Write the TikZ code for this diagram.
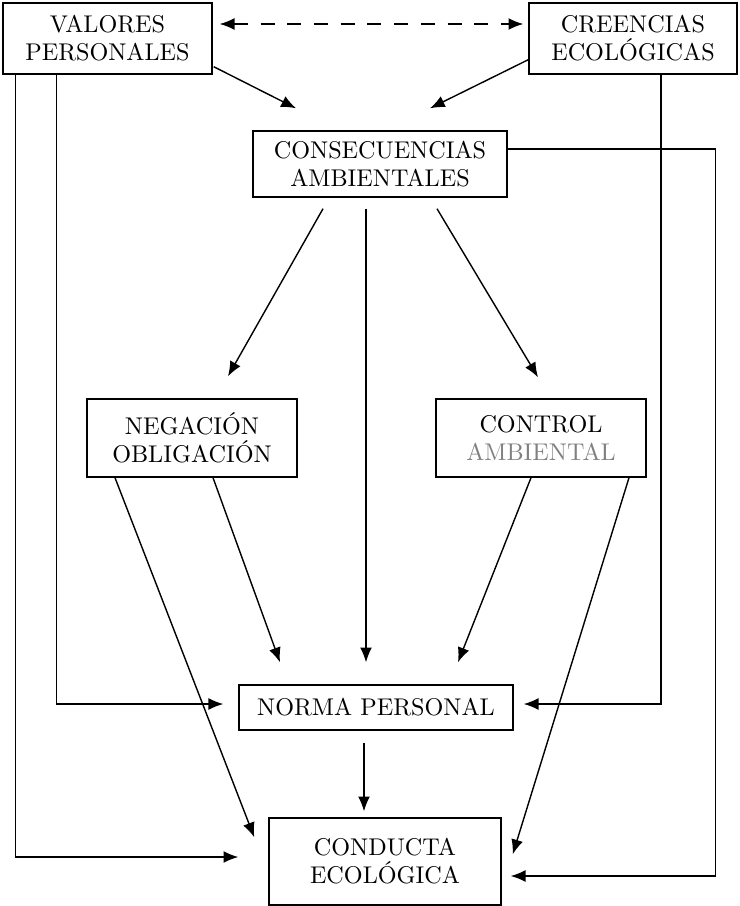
\documentclass[tikz,border=0pt]{standalone}
\usepackage{fontspec}
\newfontfamily\cajafont{lmroman10-regular}[Extension=.otf]
\usepackage{tikz}
\usetikzlibrary{calc,arrows.meta}

\begin{document}
\begin{tikzpicture}[x=0.025cm,y=-0.025cm,
  caja/.style={draw,line width=1pt,align=center,inner sep=0pt,
    font=\cajafont\fontsize{17.2}{20}\selectfont},
  flecha/.style={line width=1pt,-{Latex[length=10.5pt,width=8.5pt]}}]

\useasboundingbox (0,0) rectangle (740,906);

% cajas
\node [caja,minimum width=5.225cm,minimum height=1.775cm] (val) at (107.5,38.5) {VALORES\\PERSONALES};
\node [caja,minimum width=5.2cm,minimum height=1.775cm] (cre) at (633,38.5) {CREENCIAS\\ECOLÓGICAS};
\node [caja,minimum width=6.35cm,minimum height=1.65cm] (con) at (380,164) {CONSECUENCIAS\\AMBIENTALES};
\node [caja,minimum width=5.25cm,minimum height=1.95cm] (neg) at (192,438) {NEGACIÓN\\OBLIGACIÓN};
\node [caja,minimum width=5.25cm,minimum height=1.95cm] (ctl) at (541,438) {CONTROL\\{\color{black!50}AMBIENTAL}};
\node [caja,minimum width=6.85cm,minimum height=1.125cm] (nor) at (376,707.5) {NORMA PERSONAL};
\node [caja,minimum width=5.8cm,minimum height=2.175cm] (cdu) at (385,861.5) {CONDUCTA\\ECOLÓGICA};

% arriba
\draw [flecha,{Latex[length=10.5pt,width=8.5pt]}-{Latex[length=10.5pt,width=8.5pt]},dash pattern=on 10pt off 9pt,
  shorten <=0.175cm,shorten >=0.125cm] ($(val.east)+(0,-14.5)$) -- ($(cre.west)+(0,-14.5)$);
\draw [flecha] ($(val.south east)+(1,-8)$) -- ($(con.north)+(-84,-22)$);
\draw [flecha] ($(cre.south west)+(0,-15)$) -- ($(con.north)+(50,-22)$);

% lineas largas
\draw [flecha] ($(con.east)+(0,-15)$) -- ++(208,0) |- ($(cdu.east)+(9,14.5)$);
\draw [flecha] ($(cre.south)+(28,0)$) |- ($(nor.east)+(10,-3.5)$);
\draw [flecha] ($(val.south west)+(13,0)$) |- ($(cdu.west)+(-30,-4.5)$);
\draw [flecha] ($(val.south west)+(54,0)$) |- ($(nor.west)+(-15,-3.5)$);

% centro
\draw [flecha] ($(con.south)+(-57,11)$) -- ($(neg.north)+(36,-22)$);
\draw [flecha] ($(con.south)+(-14,11)$) -- ($(nor.north)+(-10,-22)$);
\draw [flecha] ($(con.south)+(57,11)$) -- ($(ctl.north)+(-3,-21)$);

\draw [flecha] ($(neg.south)+(-77,0)$) -- ($(cdu.north west)+(-14,20)$);
\draw [flecha] ($(neg.south)+(21,0)$) -- ($(nor.north)+(-96,-22)$);
\draw [flecha] ($(ctl.south)+(-10,0)$) -- ($(nor.north)+(82,-22)$);
\draw [flecha] ($(ctl.south)+(88,0)$) -- ($(cdu.north east)+(11,37)$);

\draw [flecha] ($(nor.south)+(-12,12)$) -- ($(cdu.north)+(-21,-6)$);
\end{tikzpicture}
\end{document}
